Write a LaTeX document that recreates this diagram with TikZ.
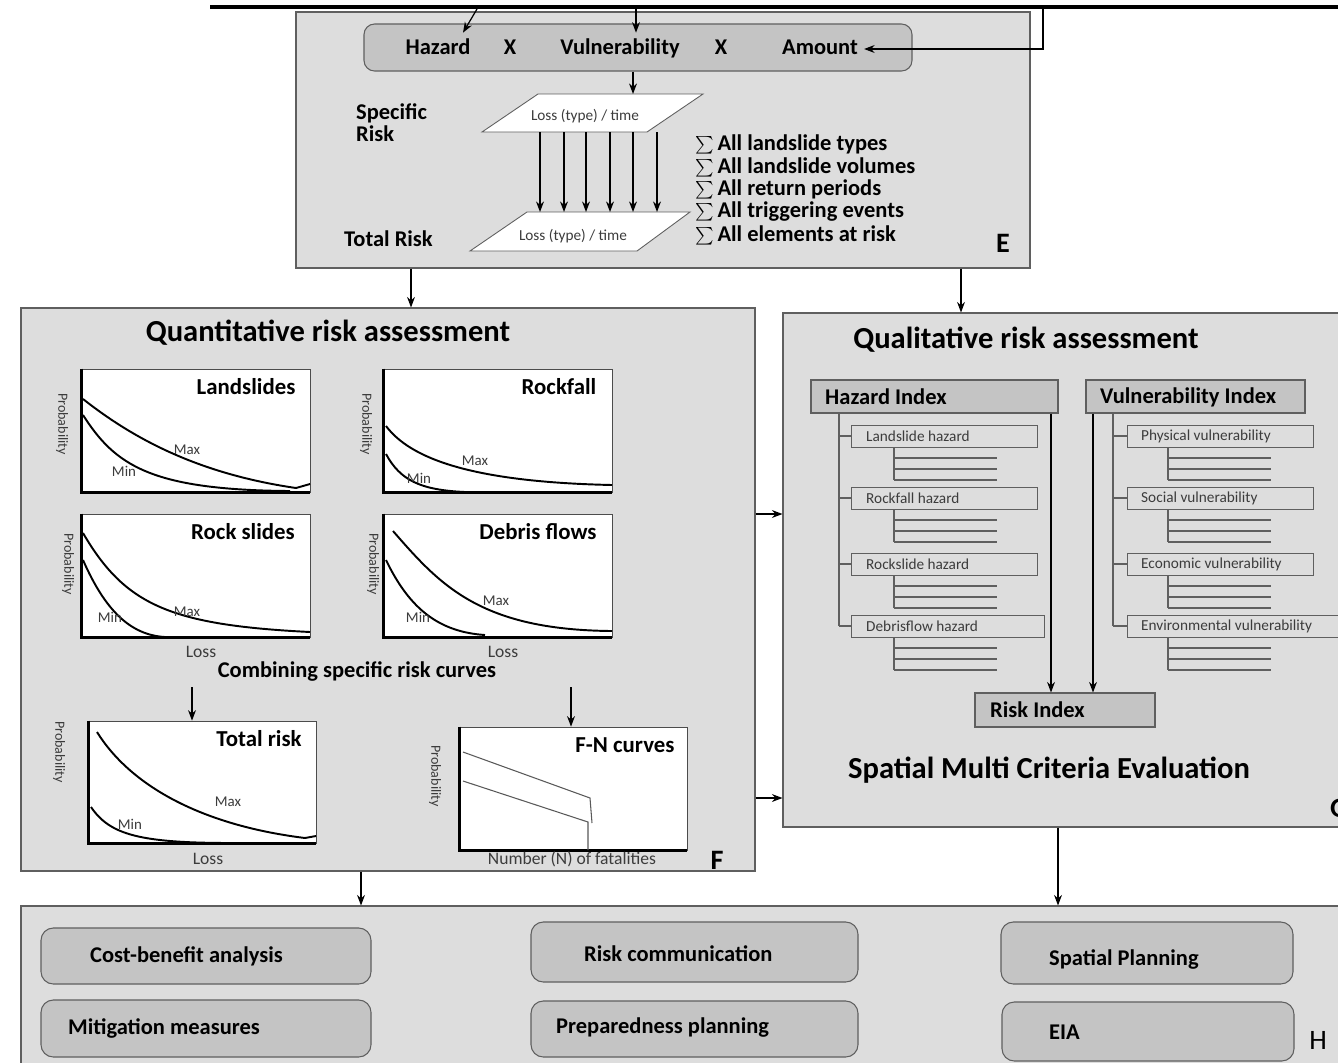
\documentclass[tikz,border=0pt]{standalone}
\usepackage{fontspec}
\setmainfont{Carlito}
\usetikzlibrary{positioning,fit,arrows.meta}
\definecolor{panelgray}{RGB}{221,221,221}
\definecolor{boxgray}{RGB}{196,196,196}
\definecolor{linegray}{RGB}{95,95,95}
\definecolor{txtgray}{RGB}{60,60,60}

\tikzset{
  panelbox/.style={draw=linegray, fill=panelgray, inner sep=0pt, line width=0.6pt},
  darkbox/.style={draw=linegray, fill=boxgray, inner sep=0pt, line width=0.6pt},
  roundbox/.style={darkbox, rounded corners=7pt},
  subbox/.style={draw=linegray, inner sep=0pt, line width=0.5pt},
  chartbox/.style={draw=black!70, fill=white, inner sep=0pt, line width=0.4pt},
  axisline/.style={line width=1.7pt},
  curveline/.style={line width=1.1pt},
  fnline/.style={line width=0.6pt, black!65},
  treeline/.style={line width=0.6pt, linegray},
  arr/.style={->, line width=0.7pt},
  para/.style={draw=linegray, fill=white, line width=0.5pt},
  bigtitle/.style={font=\fontsize{17.4}{20}\selectfont\bfseries},
  boldlabel/.style={font=\fontsize{12.8}{12.5}\selectfont\bfseries},
  rowtext/.style={boldlabel, text height=9pt, text depth=2.5pt},
  charttitle/.style={font=\fontsize{13}{15}\selectfont\bfseries},
  smalltext/.style={font=\fontsize{8.7}{10}\selectfont, text=txtgray},
  problabel/.style={font=\fontsize{8}{9}\selectfont, text=txtgray, rotate=-90},
  mmlabel/.style={font=\fontsize{8.5}{10}\selectfont, text=txtgray},
  axistext/.style={font=\fontsize{10}{12}\selectfont, text=txtgray},
  letter/.style={font=\fontsize{16}{18}\selectfont\bfseries},
}

\begin{document}
\begin{tikzpicture}[x=0.02cm, y=-0.02cm, >={Stealth[length=6pt,width=4.5pt]}]
\useasboundingbox (0,0) rectangle (1338,1062);
%----panel E----%
\node[panelbox, fit={(296,12) (1030,268)}] (pe) {};
\draw[line width=2.2pt] (210,7) -- (1338,7);
\node[roundbox, rounded corners=6pt, fit={(364,24) (912,71)}] (form) {};
\node[rowtext] (haz) at (438,49) {Hazard};
\node[rowtext] (x1) at (510,49) {X};
\node[rowtext] (vul) at (620,49) {Vulnerability};
\node[rowtext] (x2) at (721,49) {X};
\node[rowtext] (amt) at (820,49) {Amount};
\coordinate (in1) at (477,9);
\coordinate (in2) at (636,9);
\coordinate (in3) at (1043,9);
\draw[arr] (in1) -- (463,0 |- haz.north);
\draw[arr] (in2) -- (636,0 |- vul.north);
\draw[arr] (in3) |- (amt.east);
\draw[para] (482,132) -- (538,94) -- (703,94) -- (647,132) -- cycle;
\coordinate (p1top) at (633,94);
\coordinate (p1bot) at (600,132);
\node[smalltext] (lt1) at (585,116) {Loss (type) / time};
\draw[arr] (633,0 |- form.south) -- (p1top);
\draw[para] (470,251) -- (527,212) -- (690,212) -- (637,251) -- cycle;
\coordinate (p2top) at (600,212);
\node[smalltext] (lt2) at (573,236) {Loss (type) / time};
\foreach \x in {540,564,586,610,633,657}
  \draw[arr] (\x,0 |- p1bot) -- (\x,0 |- p2top);
\node[boldlabel, align=left, anchor=west] (spr) at (350,123) {Specific\\Risk};
\node[boldlabel, anchor=west] (tr) at (338,239) {Total Risk};
\foreach \y/\txt in {144/All landslide types, 167/All landslide volumes, 189/All return periods, 212/All triggering events, 235/All elements at risk}
  \node[boldlabel, anchor=west] at (689,\y) {$\sum$\,\txt};
\node[letter] (le) at (1003,243) {E};

%----panel F----%
\node[panelbox, fit={(21,308) (755,871)}] (pf) {};
\draw[arr] (411,0 |- pe.south) -- (411,0 |- pf.north);
\node[bigtitle] (qt) at (328,333) {Quantitative risk assessment};
\node[chartbox, fit={(82,369) (310,492)}] (c1) {};
\node[chartbox, fit={(384,369) (612,492)}] (c2) {};
\node[chartbox, fit={(82,514) (310,637)}] (c3) {};
\node[chartbox, fit={(384,514) (612,637)}] (c4) {};
\node[chartbox, fit={(89,721) (316,843)}] (c5) {};
\node[chartbox, fit={(460,727) (687,850)}] (c6) {};
\foreach \ch in {c1,c2,c3,c4,c5,c6}
  \draw[axisline] (\ch.north west) -- (\ch.south west) -- (\ch.south east);
% landslides
\node[charttitle] at (246,387) {Landslides};
\node[problabel] at (62,424) {Probability};
\draw[curveline] (83,399) .. controls (135,440) and (200,474) .. (296,488) -- (310,484);
\draw[curveline] (83,415) .. controls (115,465) and (150,490) .. (290,491);
\node[mmlabel] at (187,450) {Max};
\node[mmlabel] at (124,471) {Min};
% rockfall
\node[charttitle] at (559,387) {Rockfall};
\node[problabel] at (366,424) {Probability};
\draw[curveline] (386,426) .. controls (410,458) and (470,482) .. (612,485);
\draw[curveline] (386,454) .. controls (400,480) and (420,490) .. (465,492);
\node[mmlabel] at (475,461) {Max};
\node[mmlabel] at (419,478) {Min};
% rock slides
\node[charttitle] at (243,532) {Rock slides};
\node[problabel] at (68,564) {Probability};
\draw[curveline] (83,533) .. controls (125,605) and (170,625) .. (310,632);
\draw[curveline] (83,560) .. controls (105,610) and (130,635) .. (165,637);
\node[mmlabel] at (187,612) {Max};
\node[mmlabel] at (110,617) {Min};
% debris flows
\node[charttitle] at (538,532) {Debris flows};
\node[problabel] at (373,564) {Probability};
\draw[curveline] (393,531) .. controls (440,585) and (480,630) .. (612,631);
\draw[curveline] (386,560) .. controls (410,610) and (440,632) .. (485,635);
\node[mmlabel] at (496,601) {Max};
\node[mmlabel] at (418,617) {Min};
\node[axistext] at (201,652) {Loss};
\node[axistext] at (503,652) {Loss};
\node[boldlabel] (comb) at (357,671) {Combining specific risk curves};
\draw[arr] (192,0 |- comb.south) -- (192,0 |- c5.north);
\draw[arr] (571,0 |- comb.south) -- (571,0 |- c6.north);
% total risk
\node[charttitle] at (259,739) {Total risk};
\node[problabel] at (59,752) {Probability};
\draw[curveline] (97,732) .. controls (130,785) and (200,825) .. (305,838) -- (316,836);
\draw[curveline] (91,807) .. controls (110,835) and (140,843) .. (233,843);
\node[mmlabel] at (228,802) {Max};
\node[mmlabel] at (130,824) {Min};
\node[axistext] at (208,859) {Loss};
% F-N curves
\node[charttitle] at (625,745) {F-N curves};
\node[problabel] at (435,776) {Probability};
\draw[fnline] (463,752) -- (590,798) -- (592,823);
\draw[fnline] (463,781) -- (588,822) -- (588,850);
\node[axistext] at (572,859) {Number (N) of fatalities};
\node[letter] (lf) at (717,860) {F};

%----panel G----%
\node[panelbox, fit={(783,313) (1345,827)}] (pg) {};
\draw[arr] (961,0 |- pe.south) -- (961,0 |- pg.north);
\draw[arr] (pf.east |- 0,514) -- (pg.west |- 0,514);
\draw[arr] (pf.east |- 0,798) -- (pg.west |- 0,798);
\node[bigtitle] (qlt) at (1026,340) {Qualitative risk assessment};
\node[darkbox, fit={(811,380) (1058,413)}] (hidx) {};
\node[boldlabel, anchor=west] at (819,397) {Hazard Index};
\node[darkbox, fit={(1086,380) (1305,413)}] (vidx) {};
\node[boldlabel, anchor=west] at (1094,397) {Vulnerability Index};
\draw[treeline] (839,0 |- hidx.south) -- (839,626);
\foreach \y/\w/\txt [count=\i] in {425/1037/Landslide hazard, 487/1037/Rockfall hazard, 553/1037/Rockslide hazard, 615/1044/Debrisflow hazard}{
  \node[subbox, fit={(851,\y) (\w,\y+22)}] (hz\i) {};
  \node[smalltext, anchor=west] at (860,\y+11) {\txt};
  \draw[treeline] (839,\y+11) -- (hz\i.west);
  \draw[treeline] (894,\y+22) -- (894,\y+55);
  \foreach \d in {33,44,55}
    \draw[treeline] (894,\y+\d) -- (997,\y+\d);
}
\draw[treeline] (1113,0 |- vidx.south) -- (1113,626);
\foreach \y/\w/\txt [count=\i] in {425/1313/Physical vulnerability, 487/1313/Social vulnerability, 553/1313/Economic vulnerability, 615/1340/Environmental vulnerability}{
  \node[subbox, fit={(1127,\y) (\w,\y+22)}] (vl\i) {};
  \node[smalltext, anchor=west] at (1135,\y+11) {\txt};
  \draw[treeline] (1113,\y+11) -- (vl\i.west);
  \draw[treeline] (1168,\y+22) -- (1168,\y+55);
  \foreach \d in {33,44,55}
    \draw[treeline] (1168,\y+\d) -- (1271,\y+\d);
}
\node[darkbox, fit={(975,693) (1155,727)}] (ridx) {};
\node[boldlabel, anchor=west] at (984,710) {Risk Index};
\draw[arr] (1051,0 |- hidx.south) -- (1051,0 |- ridx.north);
\draw[arr] (1093,0 |- vidx.south) -- (1093,0 |- ridx.north);
\node[bigtitle] (smce) at (1049,770) {Spatial Multi Criteria Evaluation};
\node[letter, anchor=west] (lg) at (1324,808) {G};

%----panel H----%
\node[panelbox, fit={(21,906) (1345,1070)}] (ph) {};
\draw[arr] (361,0 |- pf.south) -- (361,0 |- ph.north);
\draw[arr] (1058,0 |- pg.south) -- (1058,0 |- ph.north);
\node[roundbox, fit={(41,928) (371,984)}] (b1) {};
\node[rowtext, anchor=west] at (84,957) {Cost-benefit analysis};
\node[roundbox, fit={(41,1000) (371,1057)}] (b2) {};
\node[rowtext, anchor=west] at (62,1029) {Mitigation measures};
\node[roundbox, fit={(531,922) (858,982)}] (b3) {};
\node[rowtext, anchor=west] at (578,956) {Risk communication};
\node[roundbox, fit={(531,1001) (858,1057)}] (b4) {};
\node[rowtext, anchor=west] at (550,1028) {Preparedness planning};
\node[roundbox, fit={(1001,922) (1293,984)}] (b5) {};
\node[rowtext, anchor=west] at (1043,960) {Spatial Planning};
\node[roundbox, fit={(1002,1002) (1294,1061)}] (b6) {};
\node[rowtext, anchor=west] at (1043,1034) {EIA};
\node[font=\fontsize{16}{18}\selectfont] (lh) at (1318,1040) {H};
\end{tikzpicture}
\end{document}
